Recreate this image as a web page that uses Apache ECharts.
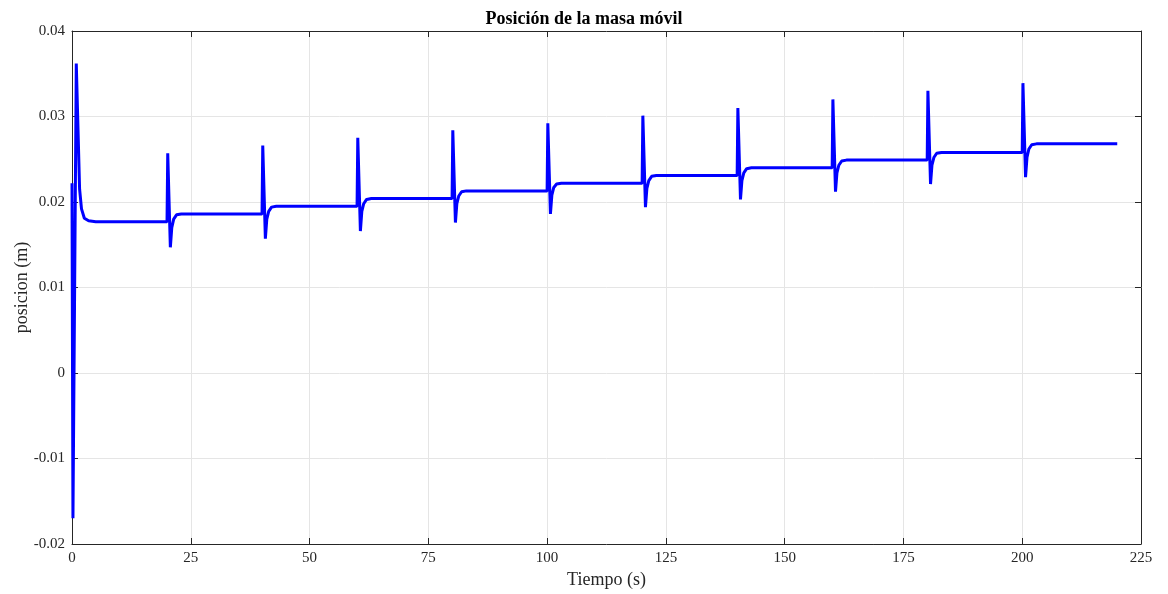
<!DOCTYPE html>
<html>
<head>
<meta charset="utf-8">
<script src="https://cdn.jsdelivr.net/npm/echarts@6/dist/echarts.min.js"></script>
<style>html,body{margin:0;padding:0;background:#fff}#c{width:1168px;height:594px}</style>
</head>
<body>
<div id="c"></div>
<script>
var xTicks = [0, 25, 50, 75, 100, 125, 150, 175, 200, 225];
var yTicks = [-0.02, -0.01, 0, 0.01, 0.02, 0.03, 0.04];

var time = [
  0, 0.2, 0.9, 1.6, 2.0, 2.6, 3.5, 5,
  20, 20.15, 20.7, 21.0, 21.4, 22.0, 23.0,
  40, 40.15, 40.7, 41.0, 41.4, 42.0, 43.0,
  60, 60.15, 60.7, 61.0, 61.4, 62.0, 63.0,
  80, 80.15, 80.7, 81.0, 81.4, 82.0, 83.0,
  100, 100.15, 100.7, 101.0, 101.4, 102.0, 103.0,
  120, 120.15, 120.7, 121.0, 121.4, 122.0, 123.0,
  140, 140.15, 140.7, 141.0, 141.4, 142.0, 143.0,
  160, 160.15, 160.7, 161.0, 161.4, 162.0, 163.0,
  180, 180.15, 180.7, 181.0, 181.4, 182.0, 183.0,
  200, 200.15, 200.7, 201.0, 201.4, 202.0, 203.0,
  220
];
var position = [
  0.0222, -0.0170, 0.0362, 0.0215, 0.0192, 0.0181, 0.0178, 0.0177,
  0.0177, 0.0257, 0.0147, 0.0170, 0.0180, 0.0185, 0.0186,
  0.0186, 0.0266, 0.0157, 0.0180, 0.0189, 0.0194, 0.0195,
  0.0195, 0.0275, 0.0166, 0.0189, 0.0198, 0.0203, 0.0204,
  0.0204, 0.0284, 0.0176, 0.0198, 0.0207, 0.0212, 0.0213,
  0.0213, 0.0292, 0.0186, 0.0208, 0.0217, 0.0221, 0.0222,
  0.0222, 0.0301, 0.0194, 0.0216, 0.0225, 0.0230, 0.0231,
  0.0231, 0.0310, 0.0203, 0.0225, 0.0234, 0.0239, 0.0240,
  0.0240, 0.0320, 0.0212, 0.0234, 0.0243, 0.0248, 0.0249,
  0.0249, 0.0330, 0.0221, 0.0243, 0.0252, 0.0257, 0.0258,
  0.0258, 0.0339, 0.0229, 0.0252, 0.0262, 0.0267, 0.0268,
  0.0268
];

var data = time.map(function (t, i) { return [t, position[i]]; });
var font = 'Liberation Serif, Times New Roman, serif';
var axisCol = '#262626';

function fmtY(v) { var r = Math.round(v * 100) / 100; return r === 0 ? '0' : String(r); }

var chart = echarts.init(document.getElementById('c'));
chart.setOption({
  animation: false,
  backgroundColor: '#fff',
  title: {
    text: 'Posición de la masa móvil',
    left: 'center', top: 5,
    textStyle: { fontFamily: font, fontSize: 18, fontWeight: 'bold', color: '#000' }
  },
  grid: { left: 72, right: 27, top: 31, bottom: 50, show: false, containLabel: false, outerBoundsMode: 'none' },
  xAxis: [{
    type: 'value', min: xTicks[0], max: xTicks[xTicks.length - 1], interval: 25,
    name: 'Tiempo (s)', nameLocation: 'middle', nameGap: 27, nameMoveOverlap: false,
    nameTextStyle: { fontFamily: font, fontSize: 18, color: '#262626' },
    axisLine: { show: true, onZero: false, lineStyle: { color: axisCol, width: 1 } },
    axisTick: { show: true, inside: true, length: 6, lineStyle: { color: axisCol } },
    axisLabel: { fontFamily: font, fontSize: 15, color: '#262626', margin: 7 },
    splitLine: { show: true, lineStyle: { color: '#e5e5e5', width: 1 } }
  }, {
    type: 'value', position: 'top', min: xTicks[0], max: xTicks[xTicks.length - 1], interval: 25,
    axisLine: { show: true, onZero: false, lineStyle: { color: axisCol, width: 1 } },
    axisTick: { show: true, inside: true, length: 6, lineStyle: { color: axisCol } },
    axisLabel: { show: false }, splitLine: { show: false }
  }],
  yAxis: [{
    type: 'value', min: yTicks[0], max: yTicks[yTicks.length - 1], interval: 0.01,
    name: 'posicion (m)', nameLocation: 'middle', nameGap: 41, nameRotate: 90, nameMoveOverlap: false,
    nameTextStyle: { fontFamily: font, fontSize: 18, color: '#262626' },
    axisLine: { show: true, onZero: false, lineStyle: { color: axisCol, width: 1 } },
    axisTick: { show: true, inside: true, length: 6, lineStyle: { color: axisCol } },
    axisLabel: { fontFamily: font, fontSize: 15, color: '#262626', margin: 7, formatter: fmtY },
    splitLine: { show: true, lineStyle: { color: '#e5e5e5', width: 1 } }
  }, {
    type: 'value', position: 'right', min: yTicks[0], max: yTicks[yTicks.length - 1], interval: 0.01,
    axisLine: { show: true, onZero: false, lineStyle: { color: axisCol, width: 1 } },
    axisTick: { show: true, inside: true, length: 6, lineStyle: { color: axisCol } },
    axisLabel: { show: false }, splitLine: { show: false }
  }],
  series: [{
    type: 'line', data: data, xAxisIndex: 0, yAxisIndex: 0,
    showSymbol: false, symbol: 'none',
    lineStyle: { color: '#0000ff', width: 3 },
    clip: true
  }]
});
</script>
</body>
</html>
